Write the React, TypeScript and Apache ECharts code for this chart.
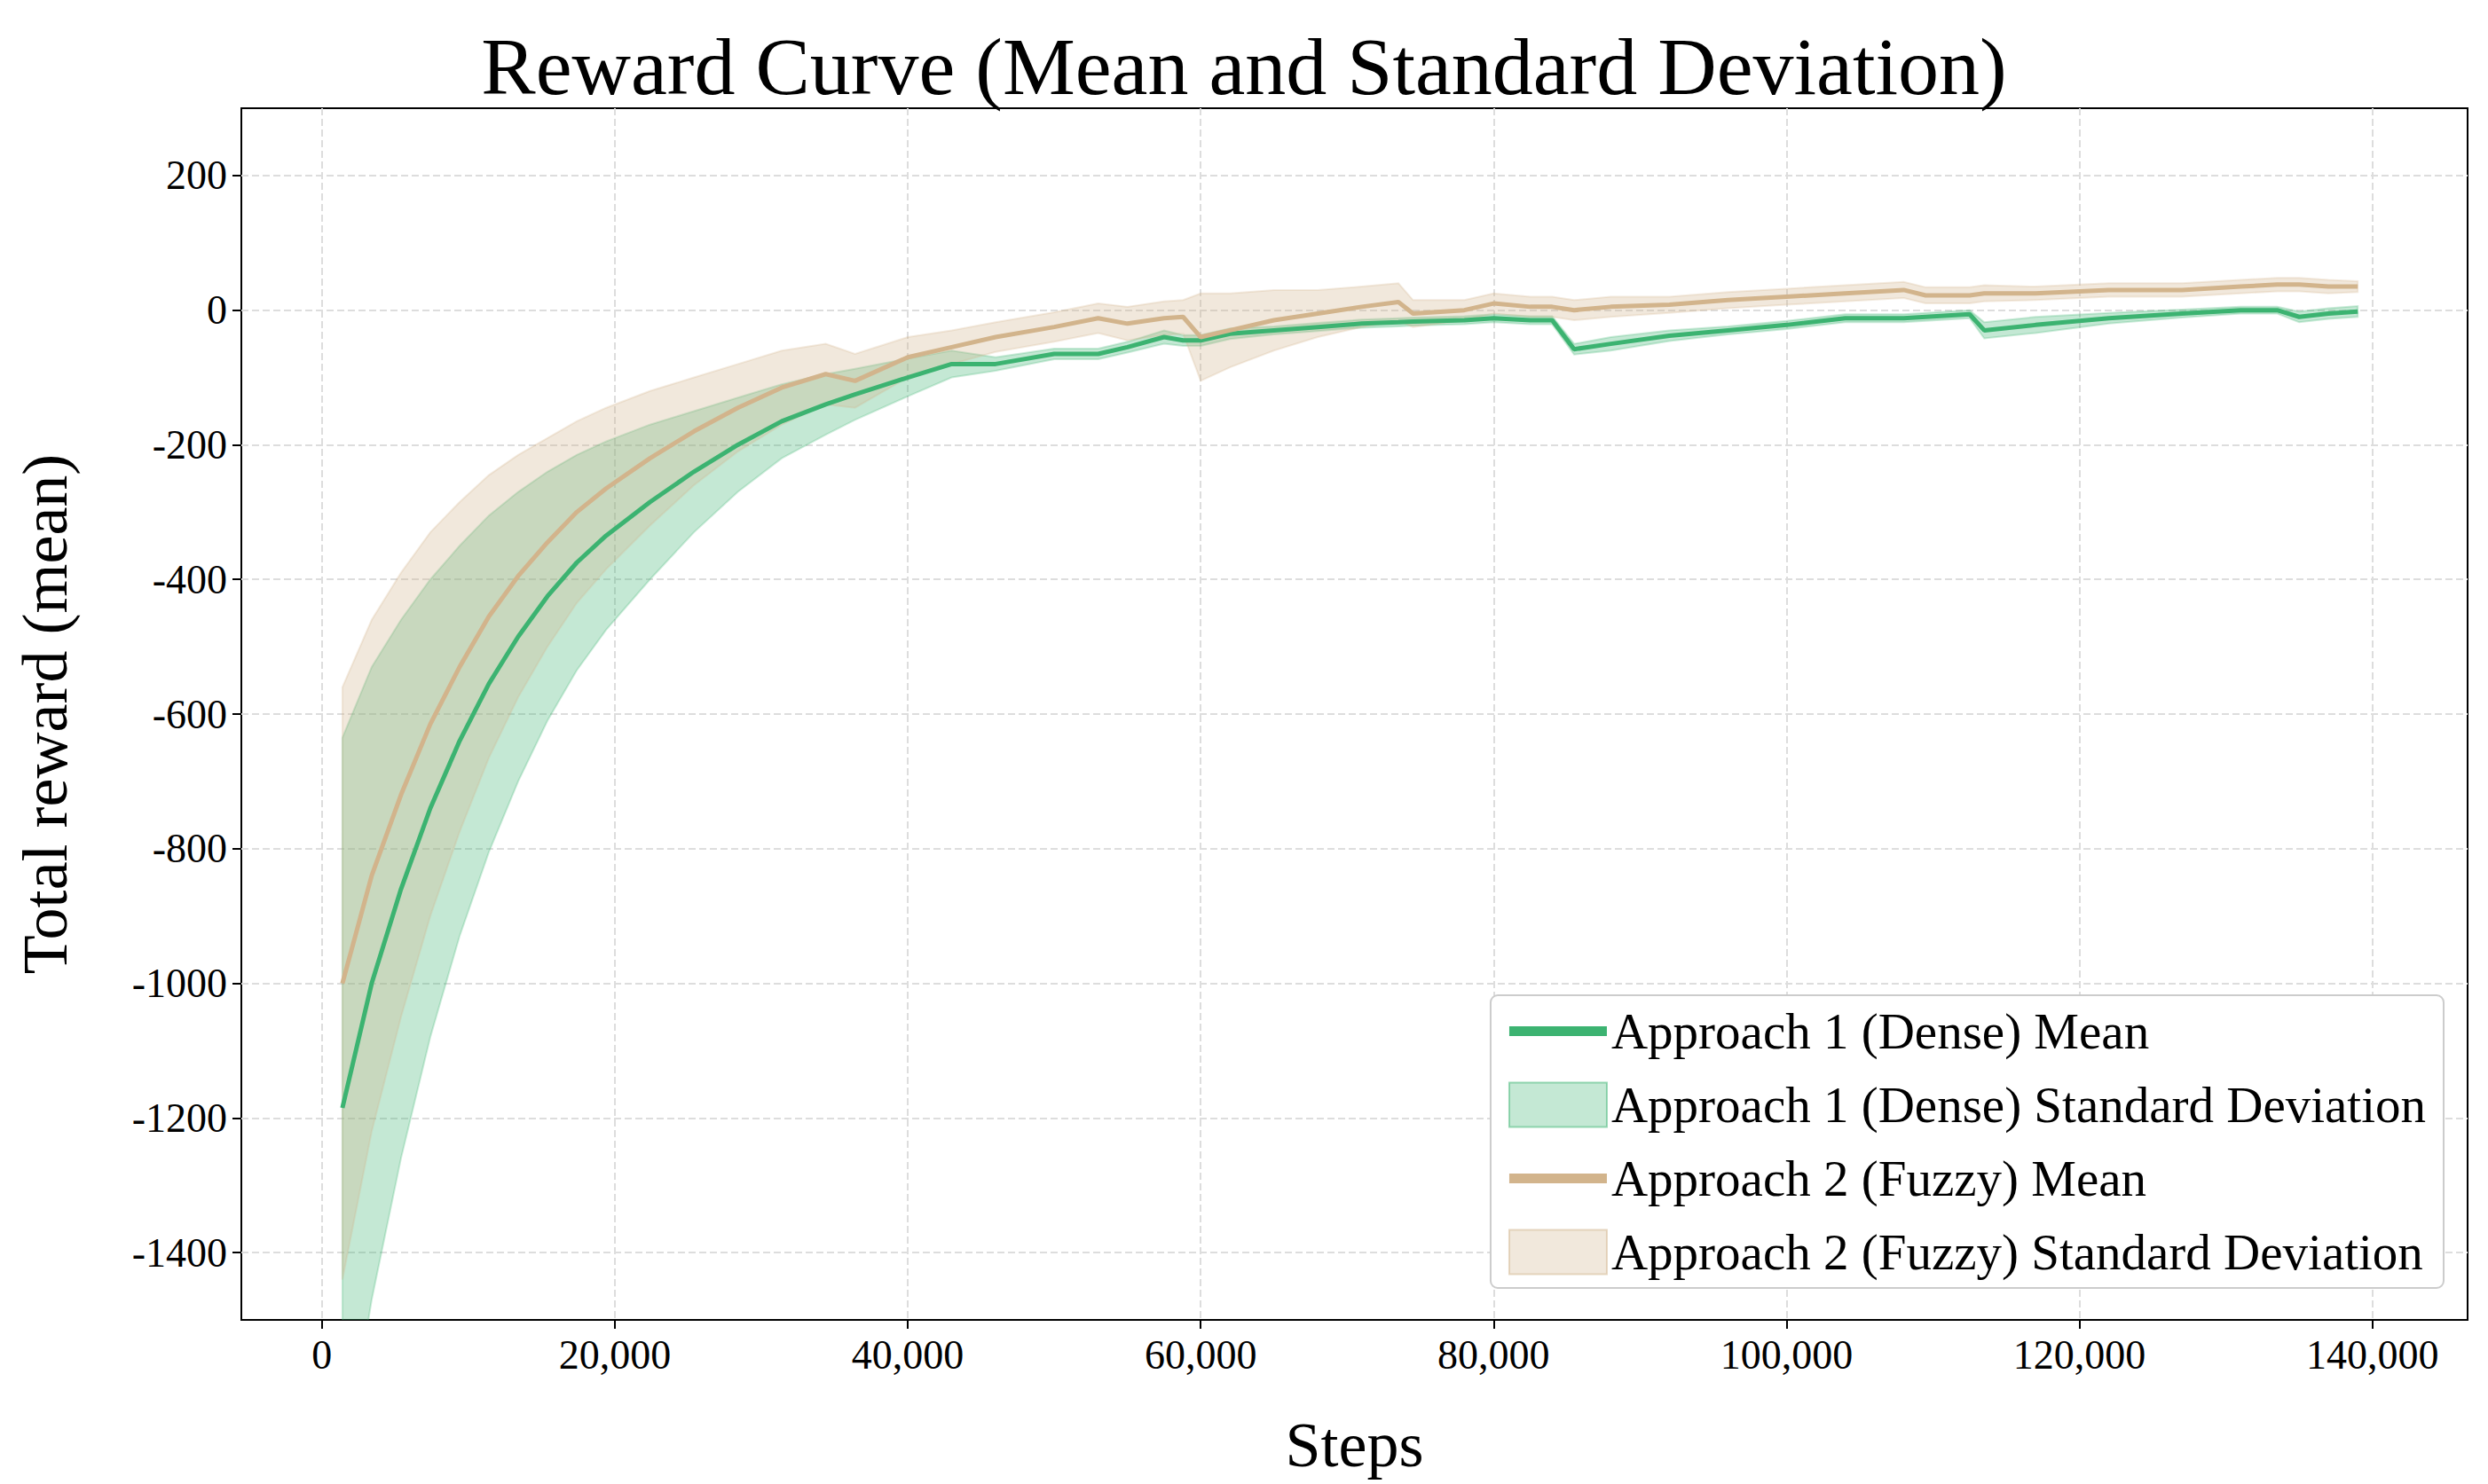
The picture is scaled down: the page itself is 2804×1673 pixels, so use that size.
import { useEffect, useRef } from "react";
import * as echarts from "echarts";

const steps = [1400, 3400, 5400, 7400, 9400, 11400, 13400, 15400, 17400, 19400, 22400, 25400, 28400, 31400, 34400, 36400, 40000, 43000, 46000, 50000, 53000, 55000, 57500, 58800, 60000, 62000, 65000, 68000, 71000, 73500, 74500, 78000, 80000, 82500, 84000, 85500, 88000, 92000, 96000, 100000, 104000, 108000, 109500, 112500, 113500, 117000, 122000, 127000, 131000, 133500, 135000, 137000, 139000];

const denseMean = [-1185, -1000, -860, -740, -640, -555, -485, -425, -375, -335, -285, -240, -200, -165, -140, -125, -100, -80, -80, -65, -65, -55, -40, -45, -45, -35, -30, -25, -20, -18, -17, -15, -12, -15, -15, -58, -50, -38, -30, -22, -12, -12, -10, -6, -30, -22, -12, -5, 0, 0, -10, -5, -2];
const denseStd = [550, 470, 400, 340, 290, 250, 215, 185, 160, 140, 115, 90, 70, 55, 45, 38, 28, 20, 10, 8, 8, 8, 10, 8, 8, 8, 6, 6, 6, 6, 6, 6, 6, 6, 6, 8, 10, 8, 6, 6, 6, 6, 6, 6, 12, 12, 8, 6, 5, 5, 8, 8, 8];

const fuzzyMean = [-1000, -840, -720, -615, -530, -455, -395, -345, -300, -265, -220, -180, -145, -115, -95, -105, -70, -55, -40, -25, -12, -20, -12, -10, -40, -30, -15, -5, 5, 12, -5, 0, 10, 5, 5, 0, 5, 8, 15, 20, 25, 30, 22, 22, 25, 25, 30, 30, 35, 38, 38, 35, 35];
const fuzzyStd = [440, 380, 330, 285, 245, 210, 180, 155, 135, 120, 100, 80, 65, 55, 45, 40, 30, 25, 22, 22, 22, 25, 25, 25, 65, 55, 45, 35, 30, 28, 20, 15, 15, 15, 15, 15, 15, 12, 12, 12, 12, 12, 12, 12, 12, 10, 10, 10, 10, 10, 10, 10, 8];

const xTicks = [0, 20000, 40000, 60000, 80000, 100000, 120000, 140000];
const yTicks = [-1400, -1200, -1000, -800, -600, -400, -200, 0, 200];

const GREEN = "#3cb371";
const TAN = "#d2b48c";
const GREEN_FILL = "rgba(60,179,113,0.3)";
const TAN_FILL = "rgba(210,180,140,0.3)";
const FONT = "Liberation Serif";

function bandSeries(name: string, mean: number[], std: number[], fill: string, edge: string) {
  return {
    type: "custom",
    name,
    clip: true,
    color: fill,
    data: steps.map((s, i) => [s, mean[i] - std[i], mean[i] + std[i]]),
    renderItem: (params: any, api: any) => {
      if (params.dataIndex !== 0) return null;
      const upper = steps.map((s, i) => api.coord([s, mean[i] + std[i]]));
      const lower = steps.map((s, i) => api.coord([s, mean[i] - std[i]])).reverse();
      return {
        type: "polygon",
        shape: { points: upper.concat(lower) },
        style: { fill, stroke: edge, lineWidth: 2 },
      };
    },
  };
}

const lineIcon = "path://M0,0L10,0L10,1L0,1Z";

export default function App() {
  const ref = useRef<HTMLDivElement>(null);

  useEffect(() => {
    document.body.style.margin = "0";
    if (!ref.current) return;
    const chart = echarts.init(ref.current, undefined, { renderer: "svg" });
    const split = { show: true, lineStyle: { type: "dashed", color: "#dddddd", width: 2 } };
    chart.setOption({
      animation: false,
      textStyle: { fontFamily: FONT },
      title: {
        text: "Reward Curve (Mean and Standard Deviation)",
        left: "center",
        top: 24,
        textStyle: { fontFamily: FONT, fontSize: 92, fontWeight: "normal", color: "#000" },
      },
      grid: { left: 272, right: 23, top: 122, bottom: 185, show: true, borderColor: "#000", borderWidth: 2 },
      legend: {
        right: 50,
        bottom: 221,
        orient: "vertical",
        backgroundColor: "#fff",
        borderColor: "#cccccc",
        borderWidth: 2,
        borderRadius: 8,
        padding: [12, 20, 12, 20],
        itemWidth: 110,
        itemHeight: 50,
        itemGap: 26,
        textStyle: { fontFamily: FONT, fontSize: 57, color: "#000" },
        data: [
          { name: "Approach 1 (Dense) Mean", icon: lineIcon, itemStyle: { color: GREEN } },
          { name: "Approach 1 (Dense) Standard Deviation", icon: "rect", itemStyle: { color: GREEN_FILL, borderColor: "rgba(60,179,113,0.5)", borderWidth: 2 } },
          { name: "Approach 2 (Fuzzy) Mean", icon: lineIcon, itemStyle: { color: TAN } },
          { name: "Approach 2 (Fuzzy) Standard Deviation", icon: "rect", itemStyle: { color: TAN_FILL, borderColor: "rgba(210,180,140,0.5)", borderWidth: 2 } },
        ],
      },
      xAxis: {
        type: "value",
        min: -5500,
        max: 146500,
        name: "Steps",
        nameLocation: "middle",
        nameGap: 105,
        nameTextStyle: { fontFamily: FONT, fontSize: 72, color: "#000" },
        axisLine: { show: false, onZero: false },
        axisTick: { show: true, length: 10, lineStyle: { color: "#000", width: 2 }, customValues: xTicks },
        axisLabel: {
          fontFamily: FONT, fontSize: 46, color: "#000", margin: 16,
          customValues: xTicks,
          formatter: (v: number) => v.toLocaleString("en-US"),
        },
        splitLine: split,
      },
      yAxis: {
        type: "value",
        min: -1500,
        max: 300,
        name: "Total reward (mean)",
        nameLocation: "middle",
        nameGap: 185,
        nameTextStyle: { fontFamily: FONT, fontSize: 72, color: "#000" },
        axisLine: { show: false, onZero: false },
        axisTick: { show: true, length: 10, lineStyle: { color: "#000", width: 2 }, customValues: yTicks },
        axisLabel: {
          fontFamily: FONT, fontSize: 46, color: "#000", margin: 16,
          customValues: yTicks,
          formatter: (v: number) => String(v),
        },
        splitLine: split,
      },
      series: [
        bandSeries("Approach 1 (Dense) Standard Deviation", denseMean, denseStd, GREEN_FILL, "rgba(60,179,113,0.25)"),
        bandSeries("Approach 2 (Fuzzy) Standard Deviation", fuzzyMean, fuzzyStd, TAN_FILL, "rgba(210,180,140,0.25)"),
        {
          type: "line",
          name: "Approach 1 (Dense) Mean",
          data: steps.map((s, i) => [s, denseMean[i]]),
          color: GREEN,
          lineStyle: { width: 5 },
          showSymbol: false,
        },
        {
          type: "line",
          name: "Approach 2 (Fuzzy) Mean",
          data: steps.map((s, i) => [s, fuzzyMean[i]]),
          color: TAN,
          lineStyle: { width: 5 },
          showSymbol: false,
        },
      ],
    });
    return () => chart.dispose();
  }, []);

  return <div ref={ref} style={{ width: 2804, height: 1673 }} />;
}
